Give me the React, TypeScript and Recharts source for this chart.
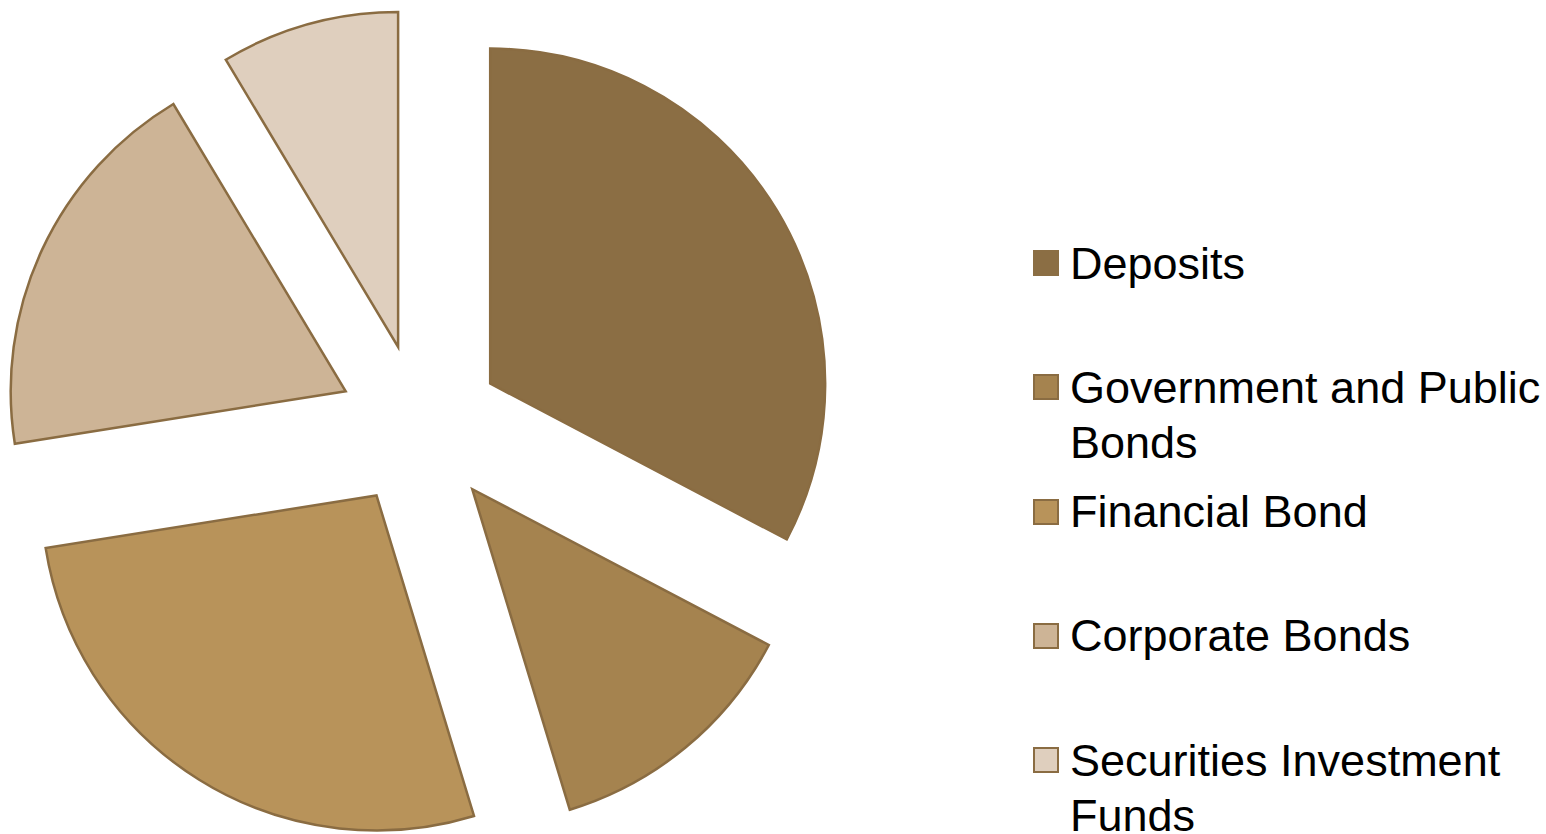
import React from 'react';
import { PieChart, Pie, Cell, Sector, Legend } from 'recharts';

const categories = ['Deposits', 'Government and Public Bonds', 'Financial Bond', 'Corporate Bonds', 'Securities Investment Funds'];
const shares = [32.7, 12.6, 27.2, 18.9, 8.6];
const colors = ['#8B6E44', '#A5834F', '#B8935A', '#CDB496', '#DFCFBE'];

const STROKE = '#8A6C42';
const EXPLODE = 82;
const RAD = Math.PI / 180;

const data = categories.map((name, i) => ({ name, value: shares[i] }));

// pushes every slice outwards along its middle angle
const ExplodedSector = (props: any) => {
  const { cx, cy, midAngle } = props;
  const dx = EXPLODE * Math.cos(-midAngle * RAD);
  const dy = EXPLODE * Math.sin(-midAngle * RAD);
  return <Sector {...props} cx={cx + dx} cy={cy + dy} />;
};

const LegendBox = () => (
  <div style={{ fontFamily: '"Liberation Sans", Arial, sans-serif', color: '#000' }}>
    {categories.map((name, i) => (
      <div key={name} style={{ height: 124.25, display: 'flex', alignItems: 'flex-start' }}>
        <div
          style={{
            width: 22,
            height: 22,
            marginTop: 14.5,
            marginRight: 11,
            flex: 'none',
            background: colors[i],
            border: `2px solid ${i === 0 ? colors[0] : STROKE}`,
          }}
        />
        <div style={{ fontSize: 45, lineHeight: '55px', width: 480 }}>{name}</div>
      </div>
    ))}
  </div>
);

export default function App() {
  return (
    <div style={{ position: 'absolute', left: 0, top: 0, background: '#fff' }}>
      <PieChart width={1546} height={834} margin={{ top: 0, right: 0, bottom: 0, left: 0 }}>
        <Pie
          data={data}
          dataKey="value"
          nameKey="name"
          cx={420}
          cy={426}
          outerRadius={335}
          startAngle={90}
          endAngle={-270}
          stroke={STROKE}
          strokeWidth={2.5}
          shape={ExplodedSector}
          isAnimationActive={false}
        >
          {data.map((d, i) => (
            <Cell key={d.name} fill={colors[i]} />
          ))}
        </Pie>
        <Legend
          content={<LegendBox />}
          wrapperStyle={{ left: 1033, top: 235.5, width: 513, bottom: 'auto', right: 'auto' }}
        />
      </PieChart>
    </div>
  );
}
